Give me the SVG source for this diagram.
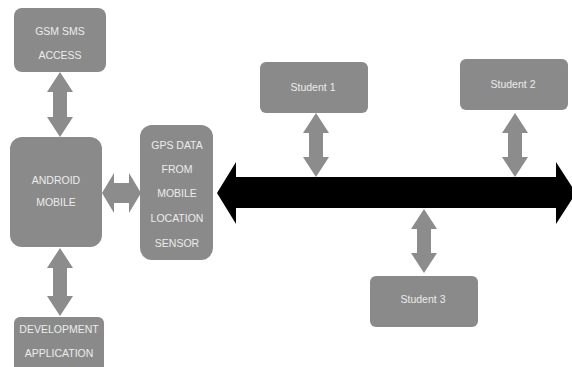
<svg xmlns="http://www.w3.org/2000/svg" width="572" height="367" viewBox="0 0 572 367">
<style>
.box{fill:#8a8a8a;}
.arr{fill:#8c8c8c;}
.t{font-family:"Liberation Sans Narrow","Liberation Sans",Arial,sans-serif;font-size:10.5px;fill:#ececec;text-anchor:middle;dominant-baseline:central;}
</style>
<rect width="572" height="367" fill="#ffffff"/>
<g id="connectors">
<path class="arr" d="M60,72 L73,92 L67,92 L67,117 L73,117 L60,137 L47,117 L53,117 L53,92 L47,92 Z"/>
<path class="arr" d="M60,248 L73,268 L67,268 L67,296 L73,296 L60,316 L47,296 L53,296 L53,268 L47,268 Z"/>
<path class="arr" d="M102,193 L114,173 L114,183 L129,183 L129,173 L141,193 L129,213 L129,203 L114,203 L114,213 Z"/>
<path fill="#000000" d="M217,193 L236,162 L236,177 L556,177 L556,162 L576,193 L556,224 L556,208 L236,208 L236,224 Z"/>
<path class="arr" d="M316,113 L329,133 L323,133 L323,157 L329,157 L316,177 L303,157 L309,157 L309,133 L303,133 Z"/>
<path class="arr" d="M515,113 L528,133 L522,133 L522,157 L528,157 L515,177 L502,157 L508,157 L508,133 L502,133 Z"/>
<path class="arr" d="M424,209 L437,229 L431,229 L431,253 L437,253 L424,273 L411,253 L417,253 L417,229 L411,229 Z"/>
</g>
<g id="gsm"><rect class="box" x="14" y="8" width="92" height="64" rx="8"/><text class="t" x="60" y="31">GSM SMS</text><text class="t" x="60" y="55">ACCESS</text></g>
<g id="android"><rect class="box" x="10" y="137" width="92" height="110" rx="12"/><text class="t" x="56" y="180">ANDROID</text><text class="t" x="56" y="202">MOBILE</text></g>
<g id="dev"><rect class="box" x="14" y="317" width="90" height="55" rx="6"/><text class="t" x="59" y="329">DEVELOPMENT</text><text class="t" x="59" y="353">APPLICATION</text></g>
<g id="gps"><rect class="box" x="140" y="125" width="73" height="135" rx="12"/><text class="t" x="177" y="145">GPS DATA</text><text class="t" x="177" y="169">FROM</text><text class="t" x="177" y="193">MOBILE</text><text class="t" x="177" y="218">LOCATION</text><text class="t" x="177" y="243">SENSOR</text></g>
<g id="student1"><rect class="box" x="260" y="62" width="108" height="51" rx="6"/><text class="t" x="313" y="87">Student 1</text></g>
<g id="student2"><rect class="box" x="460" y="59" width="108" height="51" rx="6"/><text class="t" x="513" y="84">Student 2</text></g>
<g id="student3"><rect class="box" x="370" y="276" width="108" height="51" rx="6"/><text class="t" x="423" y="299">Student 3</text></g>
</svg>
